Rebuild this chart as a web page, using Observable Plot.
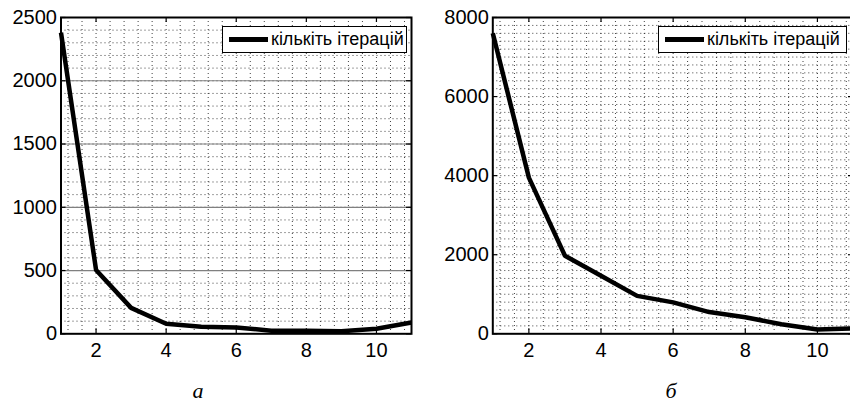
<!DOCTYPE html>
<html><head><meta charset="utf-8">
<script src="https://cdn.jsdelivr.net/npm/d3@7"></script>
<script src="https://cdn.jsdelivr.net/npm/@observablehq/plot@0.6"></script>
<style>
html,body{margin:0;padding:0;background:#fff;}
body{width:850px;height:403px;overflow:hidden;font-family:"Liberation Sans",Arial,sans-serif;}
#wrap{position:relative;width:850px;height:403px;overflow:hidden;}
.panel{position:absolute;top:0;}
.legend{position:absolute;background:#fff;border:1px solid #000;box-sizing:border-box;display:flex;align-items:center;font-size:18px;color:#000;white-space:nowrap;}
.legend .sw{width:39px;height:5px;background:#000;margin:0 3px 0 6px;flex:none;}
.cap{position:absolute;font-family:"Liberation Serif","DejaVu Serif",serif;font-style:italic;font-size:22px;line-height:12px;transform:translateX(-50%);}
</style></head>
<body><div id="wrap"></div>
<script>
// data
const iterationsX = [1, 2, 3, 4, 5, 6, 7, 8, 9, 10, 11];
const countA = [2380, 505, 205, 80, 55, 50, 25, 25, 20, 40, 90];
const countB = [7600, 3950, 1975, 1470, 960, 795, 550, 420, 240, 110, 135];
const xTickLabels = [2, 4, 6, 8, 10];
const yTicksA = [0, 500, 1000, 1500, 2000, 2500];
const yTicksB = [0, 2000, 4000, 6000, 8000];
const legendLabel = "кількіть ітерацій";
const captions = ["а", "б"];

const wrap = document.getElementById("wrap");
const xMinor = d3.range(3, 28).map(i => +(i * 0.4).toFixed(1));

function panel({data, yDomain, yTicks, yMinorStep, majorSolid, left, width, marginLeft, marginRight}) {
  const height = 380, marginTop = 17, marginBottom = 46.7;
  const plotH = height - marginTop - marginBottom;
  const plotW = width - marginLeft - marginRight;
  const rows = iterationsX.map((x, i) => ({x, y: data[i]}));
  const yMinor = d3.range(yDomain[0] + yMinorStep, yDomain[1], yMinorStep);
  const dotted = {stroke: "#000", strokeOpacity: 0.75, strokeDasharray: "1,3", strokeWidth: 1};
  const svg = Plot.plot({
    width, height, marginLeft, marginRight, marginTop, marginBottom,
    style: {fontSize: "20px", fontFamily: "'Liberation Sans', Arial, sans-serif", color: "#000", background: "transparent", overflow: "visible"},
    x: {domain: [1, 11], label: null},
    y: {domain: yDomain, label: null},
    marks: [
      Plot.ruleY(yMinor, dotted),
      Plot.ruleX(xMinor, dotted),
      majorSolid ? Plot.ruleY(yTicks.slice(1, -1), {stroke: "#808080", strokeWidth: 1.2}) : null,
      Plot.line(rows, {x: "x", y: "y", stroke: "#000", strokeWidth: 4.5, strokeLinejoin: "miter", strokeLinecap: "butt"}),
      Plot.frame({stroke: "#000", strokeWidth: 2}),
      Plot.tickX(xTickLabels, {x: d => d, insetTop: plotH - 5, stroke: "#000", strokeWidth: 1.2}),
      Plot.tickX(xTickLabels, {x: d => d, insetBottom: plotH - 5, stroke: "#000", strokeWidth: 1.2}),
      Plot.tickY(yTicks, {y: d => d, insetRight: plotW - 5, stroke: "#000", strokeWidth: 1.2}),
      Plot.tickY(yTicks, {y: d => d, insetLeft: plotW - 5, stroke: "#000", strokeWidth: 1.2}),
      Plot.axisX(xTickLabels, {tickSize: 0, tickPadding: 9, fontSize: 20, label: null, tickFormat: d => String(d)}),
      Plot.axisY(yTicks, {tickSize: 0, tickPadding: 4, fontSize: 20, label: null, tickFormat: d => String(d)})
    ]
  });
  svg.classList.add("panel");
  svg.style.left = left + "px";
  wrap.appendChild(svg);
}

panel({data: countA, yDomain: [0, 2500], yTicks: yTicksA, yMinorStep: 100, majorSolid: true,
       left: 0, width: 420, marginLeft: 60.5, marginRight: 9});
panel({data: countB, yDomain: [0, 8000], yTicks: yTicksB, yMinorStep: 200, majorSolid: false,
       left: 425, width: 433, marginLeft: 67.3, marginRight: 5});

function legend(left, width) {
  const d = document.createElement("div");
  d.className = "legend";
  d.style.left = left + "px"; d.style.top = "26px";
  d.style.width = width + "px"; d.style.height = "27px";
  const sw = document.createElement("span"); sw.className = "sw";
  const t = document.createElement("span"); t.textContent = legendLabel;
  d.appendChild(sw); d.appendChild(t);
  wrap.appendChild(d);
}
legend(222, 185);
legend(658, 189);

[[198, captions[0]], [671, captions[1]]].forEach(([x, c]) => {
  const d = document.createElement("div");
  d.className = "cap"; d.textContent = c;
  d.style.left = x + "px"; d.style.top = "385px";
  wrap.appendChild(d);
});
</script></body></html>
